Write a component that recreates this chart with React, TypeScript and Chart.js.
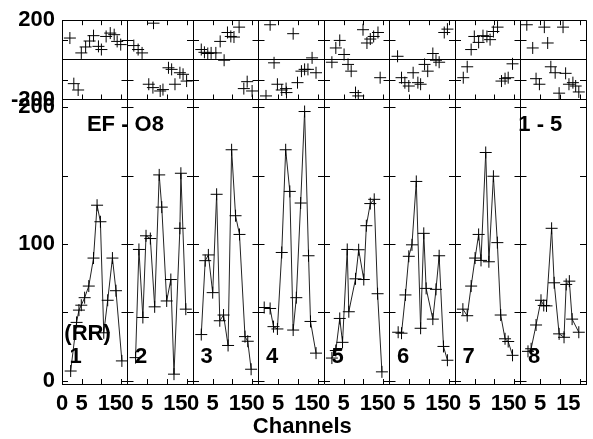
import React, { useEffect, useRef } from 'react';
import { Chart, registerables } from 'chart.js';

Chart.register(...registerables);

// ---- data (channel position, value) per panel ----
const panelNames = ['1', '2', '3', '4', '5', '6', '7', '8'];
const xTickValues = [0, 5, 10, 15];
const xTickLabels = ['0', '5', '', ''];
const xEndTickValue = 15;
const xEndTickLabel = '15';
const xTitle = 'Channels';
const mainYTickValues = [0, 100, 200];
const mainYMinorTicks = [0, 50, 100, 150, 200];
const topYTickValues = [-200, 0, 200];
const topYMinorTicks = [-100, 100];

const p1X = [2.2, 3.7, 4.3, 4.9, 5.75, 6.8, 8, 8.9, 9.75, 10.6, 11.6, 12.8, 13.7, 15.2];
const p1Y = [7, 42.6, 51.6, 55.2, 60.7, 69.2, 89.7, 128.4, 116.3, 35, 58.8, 89.7, 65.8, 14.4];
const p2X = [2.05, 2.9, 3.9, 4.7, 5.8, 6.9, 8.05, 8.7, 9.95, 11, 11.8, 13.3, 13.55, 14.8];
const p2Y = [16.8, 96, 46.2, 106, 104, 54, 150.6, 127, 58.3, 74, 4.7, 111.5, 151.8, 52.3];
const p3X = [2.1, 3.1, 3.9, 5, 6, 6.8, 7.75, 8.9, 9.8, 10.8, 11.8, 13.2, 13.9, 14.75];
const p3Y = [33.7, 87.8, 92, 64.4, 136.4, 43.8, 48, 25.7, 169, 120.7, 107, 32.2, 28.8, 8.3];
const p4X = [1.45, 2.95, 3.8, 4.8, 5.9, 6.9, 7.95, 8.8, 9.6, 10.7, 11.7, 12.7, 13.2, 14.6];
const p4Y = [53.5, 52.8, 39.5, 37.8, 93.8, 169, 138.5, 37, 60.7, 130, 197, 91.4, 43.3, 20.1];
const p5X = [2, 3, 4, 4.7, 5.9, 6.3, 8, 8.8, 10.1, 10.75, 11.75, 12.75, 13.6, 14.7];
const p5Y = [16.5, 22, 45.5, 28, 96, 50.4, 74.5, 95.8, 74, 113.4, 129.6, 132.7, 63.6, 6.4];
const p6X = [2.2, 3.05, 4.05, 4.9, 5.7, 6.8, 7.9, 8.7, 9.3, 11, 11.8, 12.6, 13.7, 14.7];
const p6Y = [35.4, 34.7, 62.7, 91, 99.4, 145.8, 38.3, 107.8, 67.5, 45, 66.8, 91.4, 25, 14.9];
const p7X = [2, 3.1, 4.1, 5.1, 6, 6.6, 7.8, 8.6, 9.75, 10.75, 11.6, 12.7, 13.5, 14.6];
const p7Y = [52.3, 47.5, 69.2, 89.7, 107, 88, 167, 87, 149.6, 101, 48, 30.6, 28.6, 18.5];
const p8X = [1.9, 2.7, 3.95, 5.2, 5.9, 6.6, 7.9, 8.55, 9.8, 11.05, 11.6, 12.4, 13.1, 14.8];
const p8Y = [21.4, 23.3, 40.7, 58.8, 55, 54.7, 111.5, 71.6, 34.2, 31.7, 70.4, 72.8, 45, 35.4];

// residuals (upper strip)
const r1X = [2, 3, 4.1, 4.9, 6, 7, 8, 9.25, 10, 11.2, 12.25, 13.25, 14, 14.9];
const r1Y = [110, -120, -152, 35, 65, 95, 122, 68, 52, 118, 135, 127, 93, 77];
const r2X = [1.6, 2.7, 3.7, 5.4, 6.45, 6.6, 8.3, 9, 10.4, 11.2, 12.05, 13.3, 14.1, 15];
const r2Y = [72, 52, 35, -123, -140, 185, -157, -150, -40, -48, -123, -65, -73, -107];
const r3X = [2.1, 2.9, 3.75, 4.6, 5.8, 6.9, 7.9, 8.75, 9.6, 10.4, 11.7, 12.9, 13.75, 15];
const r3Y = [52, 38, 32, 35, 35, 93, -2, 138, 118, 115, 165, -145, -110, -157];
const r4X = [1.9, 2.95, 3.95, 4.8, 5.9, 7, 7.1, 8.8, 9.9, 10.9, 11.7, 12.55, 13.6, 14.6];
const r4Y = [-182, 177, -15, -123, -152, -145, -165, 132, -115, -57, -48, -48, 10, -65];
const r5X = [2, 3, 4, 5.1, 6.1, 6.9, 8, 8.7, 9.9, 10.9, 11.75, 12.6, 13.7, 14.25];
const r5Y = [-12, 60, 98, 27, -23, -57, -165, -182, 152, 85, 105, 118, 138, -90];
const r6X = [2.05, 3.05, 3.9, 4.9, 6, 7.2, 7.9, 8.9, 9.7, 11, 11.8, 12.6, 13.9, 14.7];
const r6Y = [18, -90, -115, -132, -65, -115, -123, -23, -57, 32, -2, -12, 138, 155];
const r7X = [2.1, 3.1, 4.1, 4.9, 6, 7.1, 8.1, 8.9, 9.75, 10.8, 11.8, 12.7, 13.5, 14.6];
const r7Y = [-90, -35, 52, 118, 88, 122, 118, 102, 143, 165, -107, -95, -90, -20];
const r8X = [1.6, 3.1, 3.95, 4.8, 6.05, 6.9, 7.7, 8.8, 9.8, 10.8, 11.45, 12.3, 13.3, 14, 14.8];
const r8Y = [177, 60, -95, -123, 165, 85, -35, -65, -168, 165, -68, -123, -115, -132, -162];

const mainXs = [p1X, p2X, p3X, p4X, p5X, p6X, p7X, p8X];
const mainYs = [p1Y, p2Y, p3Y, p4Y, p5Y, p6Y, p7Y, p8Y];
const resXs = [r1X, r2X, r3X, r4X, r5X, r6X, r7X, r8X];
const resYs = [r1Y, r2Y, r3Y, r4Y, r5Y, r6Y, r7Y, r8Y];

const PANEL = 16.625; // channel units spanned by one panel
const NPANEL = panelNames.length;

const FONT = { family: '"Liberation Sans", Arial, sans-serif', weight: 'bold' as const, size: 22 };

const isBoundary = (v: number) => Math.abs(v / PANEL - Math.round(v / PANEL)) < 1e-6;

const decorPlugin = {
  id: 'panelDecor',
  afterDraw(chart: any) {
    const { ctx, chartArea } = chart;
    const x = chart.scales.x;
    const yMain = chart.scales.yMain;
    const yTop = chart.scales.yTop;
    const r = (v: number) => Math.round(v) + 0.5;
    ctx.save();
    ctx.strokeStyle = '#000';
    ctx.lineWidth = 1;
    ctx.beginPath();
    for (let k = 0; k <= NPANEL; k++) {
      const bx = x.getPixelForValue(k * PANEL);
      const l = Math.max(chartArea.left, bx - 6);
      const rr = Math.min(chartArea.right, bx + 6);
      mainYMinorTicks.forEach((v) => {
        const py = r(yMain.getPixelForValue(v));
        ctx.moveTo(l, py);
        ctx.lineTo(rr, py);
      });
      topYMinorTicks.forEach((v) => {
        const py = r(yTop.getPixelForValue(v));
        ctx.moveTo(l, py);
        ctx.lineTo(rr, py);
      });
      if (k < NPANEL) {
        xTickValues.forEach((t) => {
          if (t === 0) return;
          const px = r(x.getPixelForValue(k * PANEL + t));
          ctx.moveTo(px, yMain.bottom);
          ctx.lineTo(px, yMain.bottom - 5);
          ctx.moveTo(px, yTop.top);
          ctx.lineTo(px, yTop.top + 5);
          ctx.moveTo(px, yTop.bottom);
          ctx.lineTo(px, yTop.bottom - 5);
        });
      }
    }
    ctx.stroke();

    ctx.fillStyle = '#000';
    ctx.font = `bold ${FONT.size}px ${FONT.family}`;
    ctx.textBaseline = 'middle';
    ctx.textAlign = 'left';
    panelNames.forEach((name, k) => {
      ctx.fillText(name, x.getPixelForValue(k * PANEL + 1.9), yMain.getPixelForValue(17));
    });
    ctx.fillText('(RR)', x.getPixelForValue(0.6), yMain.getPixelForValue(34.5));
    ctx.textAlign = 'center';
    ctx.fillText('EF - O8', x.getPixelForValue(16.1), yMain.getPixelForValue(187));
    ctx.fillText('1 - 5', x.getPixelForValue(121.4), yMain.getPixelForValue(187));

    // end-of-panel tick labels, kept inside their panel
    const labelY = yMain.bottom + 7 + (FONT.size * 1.2) / 2;
    ctx.textAlign = 'right';
    for (let k = 0; k < NPANEL; k++) {
      ctx.fillText(xEndTickLabel, x.getPixelForValue(k * PANEL + xEndTickValue) + 1, labelY);
    }
    // axis title
    ctx.textAlign = 'center';
    ctx.fillText(xTitle, x.getPixelForValue(61), chart.height - 12);
    ctx.restore();
  },
};

export default function App() {
  const ref = useRef<HTMLCanvasElement | null>(null);

  useEffect(() => {
    if (!ref.current) return;
    const datasets: any[] = [];
    mainXs.forEach((xs, k) => {
      datasets.push({
        data: xs.map((u, i) => ({ x: k * PANEL + u, y: mainYs[k][i] })),
        yAxisID: 'yMain',
        showLine: true,
        borderColor: '#222',
        borderWidth: 1,
        pointStyle: 'cross',
        pointRadius: 6,
        pointBorderWidth: 1,
        pointBorderColor: '#000',
      });
    });
    resXs.forEach((xs, k) => {
      datasets.push({
        data: xs.map((u, i) => ({ x: k * PANEL + u, y: resYs[k][i] })),
        yAxisID: 'yTop',
        showLine: false,
        pointStyle: 'cross',
        pointRadius: 6,
        pointBorderWidth: 1,
        pointBorderColor: '#000',
      });
    });

    const xTicks: number[] = [];
    for (let k = 0; k < NPANEL; k++) xTickValues.forEach((t) => xTicks.push(k * PANEL + t));
    xTicks.push(NPANEL * PANEL);

    const chart = new Chart(ref.current, {
      type: 'scatter',
      data: { datasets },
      plugins: [decorPlugin],
      options: {
        animation: false,
        responsive: false,
        devicePixelRatio: 1,
        layout: { padding: { top: 17, left: 0, right: 0, bottom: 0 } },
        plugins: { legend: { display: false }, tooltip: { enabled: false } },
        scales: {
          x: {
            type: 'linear',
            position: 'bottom',
            min: 0,
            max: NPANEL * PANEL,
            afterBuildTicks: (s: any) => {
              s.ticks = xTicks.map((v) => ({ value: v }));
            },
            afterFit: (s: any) => {
              s.height = 55;
            },
            ticks: {
              autoSkip: false,
              maxRotation: 0,
              minRotation: 0,
              padding: 7,
              color: '#000',
              font: FONT,
              callback: (v: any) => {
                const val = Number(v);
                if (val >= NPANEL * PANEL - 1e-6) return '';
                const k = Math.floor((val + 1e-6) / PANEL);
                const local = Math.round(val - k * PANEL);
                const idx = xTickValues.indexOf(local);
                return idx >= 0 ? xTickLabels[idx] : '';
              },
            },
            grid: {
              drawTicks: false,
              color: (c: any) => (c.tick && isBoundary(c.tick.value) ? '#000' : 'rgba(0,0,0,0)'),
              lineWidth: 1,
            },
            border: { display: true, color: '#000', width: 1 },
            title: { display: false },
          },
          yMain: {
            type: 'linear',
            position: 'left',
            stack: 'rows',
            stackWeight: 287,
            min: -2.5,
            max: 205.8,
            afterBuildTicks: (s: any) => {
              s.ticks = mainYTickValues.map((v) => ({ value: v }));
            },
            afterFit: (s: any) => {
              s.width = 62;
            },
            ticks: { autoSkip: false, padding: 7, color: '#000', font: FONT },
            grid: { drawTicks: false, color: 'rgba(0,0,0,0)' },
            border: { display: true, color: '#000', width: 1 },
          },
          yTop: {
            type: 'linear',
            position: 'left',
            stack: 'rows',
            stackWeight: 80,
            min: -200,
            max: 200,
            afterBuildTicks: (s: any) => {
              s.ticks = topYTickValues.map((v) => ({ value: v }));
            },
            afterFit: (s: any) => {
              s.width = 62;
            },
            ticks: {
              autoSkip: false,
              padding: 7,
              color: '#000',
              font: FONT,
              callback: (v: any) => (Number(v) === 0 ? '' : String(v)),
            },
            grid: { drawTicks: false, color: '#000', lineWidth: 1 },
            border: { display: true, color: '#000', width: 1 },
          },
        },
      } as any,
    });
    return () => chart.destroy();
  }, []);

  return (
    <div style={{ position: 'fixed', left: 0, top: 0, width: 593, height: 439, background: '#fff' }}>
      <canvas ref={ref} width={593} height={439} style={{ display: 'block' }} />
    </div>
  );
}
